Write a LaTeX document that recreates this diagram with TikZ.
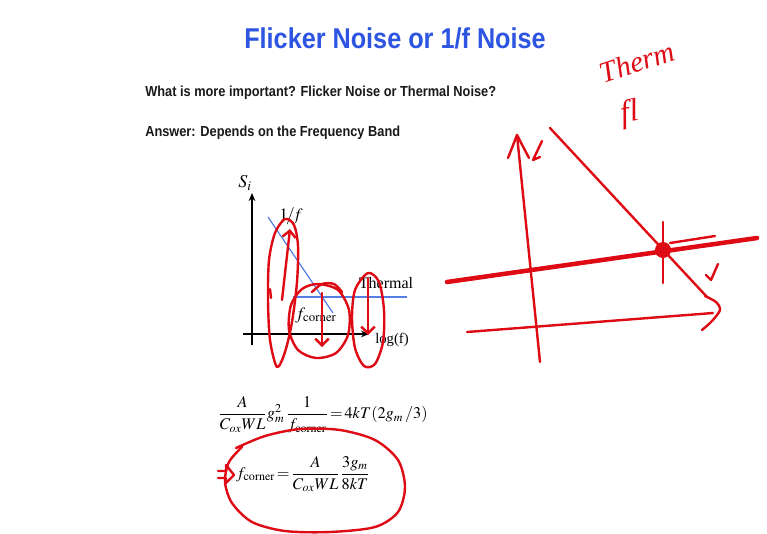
\documentclass[tikz,border=0pt]{standalone}
\usepackage{amsmath}
\usepackage{mathptmx}
\usepackage{fontspec}
\setmainfont{Liberation Serif}
\newfontfamily\slidefont[FakeStretch=0.88]{Liberation Sans}
\usetikzlibrary{arrows.meta}
\definecolor{titleblue}{RGB}{45,85,225}
\definecolor{lineblue}{RGB}{85,125,230}
\definecolor{inkred}{RGB}{222,10,20}
\definecolor{slidetext}{RGB}{25,25,25}

\begin{document}
\begin{tikzpicture}[x=.75pt,y=-.75pt,
  pen/.style={draw=inkred,line width=1.8pt,line cap=round,line join=round},
  fatpen/.style={draw=inkred,line width=3.4pt,line cap=round},
  axis/.style={draw=black,line width=1.5pt,-{Stealth[length=6pt,width=5pt]}},
  bluecurve/.style={draw=lineblue,line width=.9pt},
  plotlabel/.style={inner sep=0pt,text=black}]
\path[use as bounding box,fill=white] (0,0) rectangle (767,533);

% slide text
\node[text=titleblue,font=\slidefont\bfseries\fontsize{21.5}{24}\selectfont] (title) at (395,38) {Flicker Noise or 1/f Noise};
\node[anchor=west,inner sep=0pt,text=slidetext,font=\slidefont\bfseries\fontsize{10.9}{13}\selectfont] (question) at (145,93) {What is more important? Flicker Noise or Thermal Noise?};
\node[anchor=west,inner sep=0pt,text=slidetext,font=\slidefont\bfseries\fontsize{10.9}{13}\selectfont] (answer) at (145,133) {Answer: Depends on the Frequency Band};

% noise spectrum plot
\coordinate (yb) at (252,345);
\coordinate (yt) at (252,193);
\coordinate (xl) at (243,334);
\coordinate (xr) at (369,334);
\draw[axis] (yb) -- (yt);
\draw[axis] (xl) -- (xr);
\draw[bluecurve] (268,217) -- (333,313);
\draw[bluecurve] (293,297) -- (407,297);
\node[plotlabel,font=\fontsize{13.5}{15}\selectfont] (si) at (245,183) {$S_i$};
\node[plotlabel,font=\fontsize{13}{15}\selectfont] (onef) at (291,216) {$1\!/\!f$};
\node[plotlabel,font=\fontsize{12}{14}\selectfont] (thermal) at (386,283) {Thermal};
\node[plotlabel,font=\fontsize{13}{15}\selectfont] (fcorner) at (316,315) {$f_{\mathrm{corner}}$};
\node[plotlabel,font=\fontsize{11}{13}\selectfont] (logf) at (392,340) {log(f)};

% equations
\node[anchor=west,inner sep=0pt,font=\fontsize{12.2}{14}\selectfont] (eqone) at (218,415)
  {$\dfrac{A}{C_{ox}WL}g_m^2\,\dfrac{1}{f_{\mathrm{corner}}}\!=\!4kT(2g_m\,/3)$};
\node[anchor=west,inner sep=0pt,font=\fontsize{12.2}{14}\selectfont] (eqtwo) at (236,474)
  {$f_{\mathrm{corner}}\!=\!\dfrac{A}{C_{ox}WL}\dfrac{3g_m}{8kT}$};

% red ink on the plot
\draw[pen] plot[smooth cycle] coordinates {(277,367) (270,340) (268,300) (269,260) (275,233) (285,219) (294,225) (298,246) (297,282) (292,322) (285,352)};
\draw[pen,-{Straight Barb[length=5pt]}] (282,300) -- (290,229);
\draw[pen] (270,289) -- (271,298);
\draw[pen] plot[smooth cycle] coordinates {(318,284) (338,290) (349,310) (348,335) (336,353) (316,358) (298,350) (289,330) (291,305) (302,289)};
\draw[pen] plot[smooth] coordinates {(312,292) (322,284) (334,284) (342,292)};
\draw[pen,-{Straight Barb[length=5pt]}] (322,293) -- (322,347);
\draw[pen] plot[smooth cycle] coordinates {(368,273) (379,282) (384,310) (383,342) (375,364) (364,366) (355,348) (352,318) (355,290)};
\draw[pen,-{Straight Barb[length=5pt]}] (368,278) -- (368,335);

% red ink round the result
\draw[pen] (218,471) -- (226,471) -- (226,465) -- (234,475) -- (226,483) -- (226,478) -- (218,478);
\draw[pen] plot[smooth] coordinates {(236,448) (265,436) (300,429) (340,430) (375,440) (398,460) (405,487) (398,512) (375,527) (330,532) (285,531) (252,522) (232,503) (225,482) (229,462) (242,447)};

% red sketch on the right
\draw[pen] (540,362) -- (517,135);
\draw[pen] (508,158) -- (517,135) -- (529,158);
\draw[pen] (542,141) -- (533,160) -- (540,157);
\draw[pen] (550,128) -- (707,297);
\draw[pen] (467,332) -- (713,313);
\draw[pen] plot[smooth] coordinates {(705,296) (716,302) (720,310) (712,321) (702,330)};
\draw[fatpen] (447,282) -- (757,238);
\draw[pen] (670,243) -- (715,236);
\draw[pen] (663,222) -- (663,283);
\fill[inkred] (663,250) circle[radius=8];
\draw[pen] (718,264) -- (711,280) -- (706,275);
\node[text=inkred,rotate=18,font=\itshape\fontsize{22}{24}\selectfont] (therm) at (637,62) {Therm};
\node[text=inkred,rotate=10,font=\itshape\fontsize{24}{26}\selectfont] (fl) at (630,114) {fl};
\end{tikzpicture}
\end{document}
